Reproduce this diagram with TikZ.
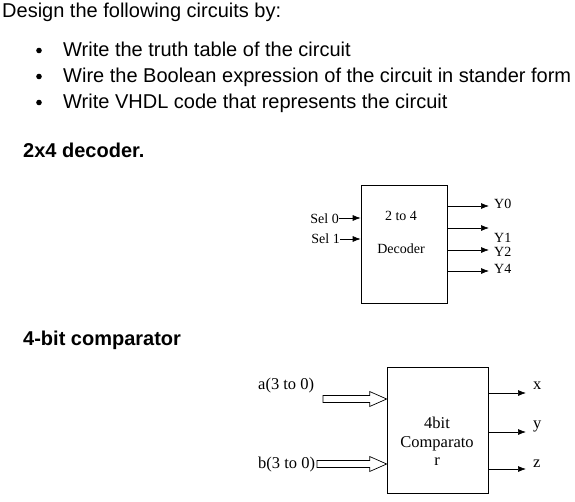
\documentclass[tikz,border=0pt]{standalone}
\usepackage{fontspec}
\setmainfont{Liberation Serif}
\newfontfamily\arialfont{Liberation Sans}
\usetikzlibrary{arrows.meta,calc,positioning}

\begin{document}
\begin{tikzpicture}[x=1pt,y=-1pt,
    txt/.style={inner sep=0pt,anchor=base west,font=\arialfont\fontsize{20}{24}\selectfont},
    head/.style={txt,font=\arialfont\bfseries\fontsize{20}{24}\selectfont},
    lbl/.style={inner sep=0pt,font=\fontsize{14}{16}\selectfont},
    biglbl/.style={inner sep=0pt,font=\fontsize{16.5}{19}\selectfont},
    blk/.style={draw,line width=0.7pt,inner sep=0pt},
    sig/.style={-{Latex[length=8pt,width=6pt]},line width=0.7pt},
    bus/.style={line width=0.7pt,line join=miter}]
        \useasboundingbox (0,0) rectangle (575,501);
        % Task text
        \node[txt] (title) at (2,17) {Design the following circuits by:};
        \foreach \y/\t [count=\i] in {56/Write the truth table of the circuit,
            82/Wire the Boolean expression of the circuit in stander form,
            108/Write VHDL code that represents the circuit}{
          \node[txt] (item\i) at (63,\y) {\t};
          \fill (39,\y-5.5) circle (2.8pt);
        }
        \node[head] (dechead) at (23,157) {2x4 decoder.};
        \node[head] (cmphead) at (23,345) {4-bit comparator};
        % 2 to 4 decoder block
        \node[blk,minimum width=86pt,minimum height=118pt] (dec) at (404,244) {};
        \node[lbl,anchor=base] (dect1) at (401,220) {2 to 4};
        \node[lbl,anchor=base] (dect2) at (401,253) {Decoder};
        % Select inputs
        \node[lbl,anchor=base east] (sel0) at (339,223) {Sel 0};
        \node[lbl,anchor=base east] (sel1) at (340,243) {Sel 1};
        \draw[sig] (sel0.east |- 0,218) -- (dec.west |- 0,218);
        \draw[sig] (sel1.east |- 0,239) -- (dec.west |- 0,239);
        % Decoder outputs
        \foreach \y/\ly/\t in {206/208/Y0,228/242/Y1,250/256/Y2,271/273/Y4}{
          \coordinate (out\t) at (489,\y);
          \node[lbl,anchor=base west] (lab\t) at (494,\ly) {\t};
          \draw[sig] (dec.east |- out\t) -- (out\t);
        }
        % 4bit comparator block
        \node[blk,minimum width=101pt,minimum height=126pt] (cmp) at (437.5,430) {};
        \node[biglbl,anchor=base] (cmpt1) at (437,428) {4bit};
        \node[biglbl,anchor=base] (cmpt2) at (437,447) {Comparato};
        \node[biglbl,anchor=base] (cmpt3) at (437,465) {r};
        % Bus inputs
        \node[biglbl,anchor=base west] (ina) at (258,389) {a(3 to 0)};
        \node[biglbl,anchor=base west] (inb) at (258,468) {b(3 to 0)};
        \coordinate (atail) at (323,399);
        \coordinate (btail) at (317,464);
        \foreach \c in {atail,btail}{
          \draw[bus] let \p1=(\c), \p2=(cmp.west |- \c) in
            (\x1,\y1+3.5pt) -- (\x2-17pt,\y1+3.5pt) -- (\x2-17pt,\y1+7.5pt) -- (\x2,\y1)
            -- (\x2-17pt,\y1-7.5pt) -- (\x2-17pt,\y1-3.5pt) -- (\x1,\y1-3.5pt) -- cycle;
        }
        % Comparator outputs
        \foreach \y/\ly/\t in {393/389/x,432/428/y,469/467/z}{
          \coordinate (cout\t) at (526,\y);
          \node[biglbl,anchor=base west] (clab\t) at (533,\ly) {\t};
          \draw[sig] (cmp.east |- cout\t) -- (cout\t);
        }
\end{tikzpicture}
\end{document}
